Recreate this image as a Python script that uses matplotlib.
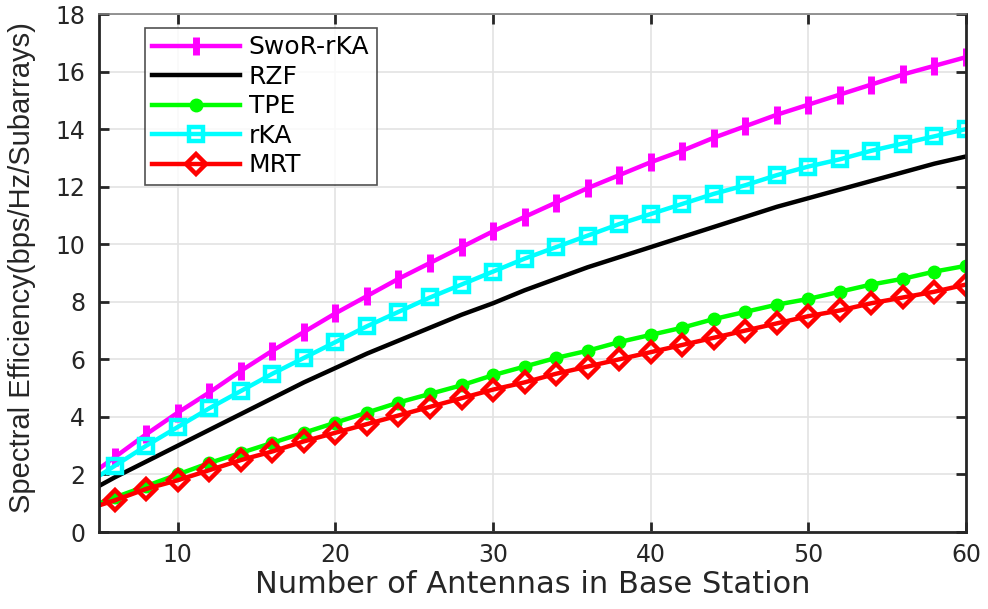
import matplotlib
matplotlib.use("Agg")
import matplotlib.pyplot as plt

x = [4, 6, 8, 10, 12, 14, 16, 18, 20, 22, 24, 26, 28, 30, 32, 34, 36, 38, 40,
     42, 44, 46, 48, 50, 52, 54, 56, 58, 60]
swor_rka = [1.8, 2.6, 3.4, 4.15, 4.85, 5.6, 6.3, 6.95, 7.6, 8.2, 8.8, 9.35, 9.9, 10.45,
            10.95, 11.45, 11.95, 12.4, 12.85, 13.25, 13.7, 14.1, 14.5, 14.85, 15.2,
            15.55, 15.9, 16.2, 16.5]
rzf = [1.3, 1.9, 2.45, 3.0, 3.55, 4.1, 4.65, 5.2, 5.7, 6.2, 6.65, 7.1, 7.55, 7.95, 8.4,
       8.8, 9.2, 9.55, 9.9, 10.25, 10.6, 10.95, 11.3, 11.6, 11.9, 12.2, 12.5, 12.8, 13.05]
tpe = [0.8, 1.2, 1.6, 2.0, 2.4, 2.75, 3.1, 3.45, 3.8, 4.15, 4.5, 4.8, 5.1, 5.45, 5.75,
       6.05, 6.3, 6.6, 6.85, 7.1, 7.4, 7.65, 7.9, 8.1, 8.35, 8.6, 8.8, 9.05, 9.25]
rka = [1.6, 2.3, 3.0, 3.65, 4.3, 4.9, 5.5, 6.05, 6.6, 7.15, 7.65, 8.15, 8.6, 9.05, 9.5,
       9.9, 10.3, 10.7, 11.05, 11.4, 11.75, 12.05, 12.4, 12.7, 12.95, 13.25, 13.5,
       13.75, 14.0]
mrt = [0.75, 1.1, 1.5, 1.8, 2.15, 2.5, 2.8, 3.15, 3.45, 3.75, 4.05, 4.35, 4.65, 4.95,
       5.2, 5.5, 5.75, 6.0, 6.25, 6.5, 6.75, 7.0, 7.25, 7.5, 7.7, 7.95, 8.15, 8.35, 8.6]

xticks = [10, 20, 30, 40, 50, 60]
yticks = [0, 2, 4, 6, 8, 10, 12, 14, 16, 18]

plt.rcParams['font.family'] = ['DejaVu Sans']

fig = plt.figure(figsize=(9.88, 6.09), dpi=100)
ax = fig.add_axes([0.1002, 0.1264, 0.8775, 0.8506])

lw = 3.2
ax.plot(x, swor_rka, color='#ff00ff', lw=lw, marker='|', ms=13, mew=5, label='SwoR-rKA')
ax.plot(x, rzf, color='black', lw=lw, label='RZF')
ax.plot(x, tpe, color='#00ff00', lw=lw, marker='o', ms=9, mfc='#00ff00', mec='#00ff00', label='TPE')
ax.plot(x, rka, color='#00ffff', lw=lw, marker='s', ms=10, mfc='none', mew=3.2, label='rKA')
ax.plot(x, mrt, color='#ff0000', lw=lw, marker='D', ms=10, mfc='none', mew=3.2, label='MRT')

ax.set_xlim(5, 60)
ax.set_ylim(0, 18)
ax.set_xticks(xticks)
ax.set_yticks(yticks)
ax.grid(True, color='#e3e3e3', lw=1.2)
ax.set_axisbelow(True)
ax.tick_params(direction='in', length=7, width=2, labelsize=17, top=True, right=True,
               colors='#262626')
ax.tick_params(axis='y', pad=10)
ax.tick_params(axis='x', pad=8)
for s in ax.spines.values():
    s.set_linewidth(2)
    s.set_color('#262626')
ax.spines['top'].set_color('#808080')
ax.spines['top'].set_linewidth(1.2)

ax.set_xlabel('Number of Antennas in Base Station', fontsize=22, color='#262626', labelpad=2)
ax.set_ylabel('Spectral Efficiency(bps/Hz/Subarrays)', fontsize=21, color='#262626',
              labelpad=14, family='Liberation Sans')
ax.yaxis.set_label_coords(-0.073, 0.51)

leg = ax.legend(loc='upper left', bbox_to_anchor=(0.053, 0.973), fontsize=18,
                frameon=True, fancybox=False, edgecolor='#262626', handlelength=3.5,
                borderpad=0.3, labelspacing=0.22, handletextpad=0.35, borderaxespad=0)
leg.get_frame().set_linewidth(1.2)

fig.savefig('out.png', dpi=100)
